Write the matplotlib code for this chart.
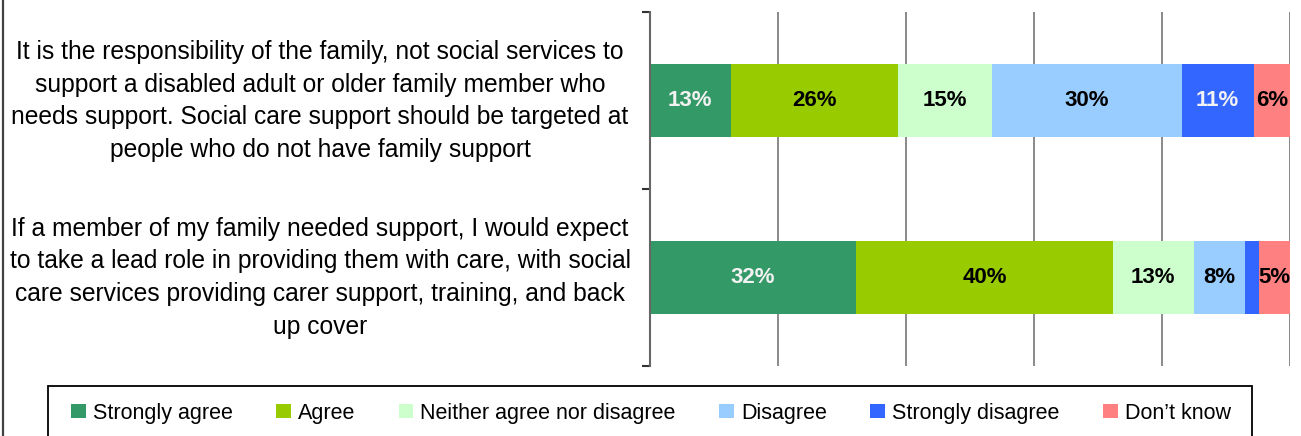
import matplotlib
matplotlib.use("Agg")
import matplotlib.pyplot as plt
from matplotlib.patches import Rectangle, Patch
from matplotlib.lines import Line2D
from matplotlib.transforms import blended_transform_factory

# ---------------- data ----------------
categories = [
    "It is the responsibility of the family, not social services to\n"
    "support a disabled adult or older family member who\n"
    "needs support. Social care support should be targeted at\n"
    "people who do not have family support",
    "If a member of my family needed support, I would expect\n"
    "to take a lead role in providing them with care, with social\n"
    "care services providing carer support, training, and back\n"
    "up cover",
]
series = ["Strongly agree", "Agree", "Neither agree nor disagree",
          "Disagree", "Strongly disagree", "Don\u2019t know"]
statement_1 = [12.6, 26.2, 14.7, 29.6, 11.2, 5.7]
statement_2 = [32.2, 40.1, 12.7, 8.0, 2.2, 4.8]
x_ticks = [0, 20, 40, 60, 80, 100]

# ---------------- style ----------------
colors = ["#339966", "#99CC00", "#CCFFCC", "#99CCFF", "#3366FF", "#FF8080"]
label_colors = ["#F2F2F2", "black", "black", "black", "#F2F2F2", "black"]
FONT = "Liberation Sans"
plt.rcParams["font.family"] = [FONT, "DejaVu Sans"]

W, H = 1301, 436
fig = plt.figure(figsize=(W / 100, H / 100), dpi=100)
ax = fig.add_axes([650 / W, 1 - 366 / H, (1290 - 650) / W, (366 - 12.5) / H])

rows = [statement_1, statement_2]
ypos = [1.5, 0.5]
bar_h = 0.413

for r, (vals, y) in enumerate(zip(rows, ypos)):
    left = 0
    for i, v in enumerate(vals):
        ax.barh(y, v, left=left, height=bar_h, color=colors[i], edgecolor="none", zorder=2)
        if v >= 3:
            ax.text(left + v / 2, y, f"{v:.0f}%", ha="center", va="center",
                    fontsize=16, fontweight="bold", color=label_colors[i], zorder=3)
        left += v

ax.set_xlim(0, 100)
ax.set_ylim(0, 2)
ax.set_xticks(x_ticks)
ax.tick_params(axis="x", length=0, labelbottom=False)
ax.xaxis.grid(True, color="#808080", linewidth=1.3, zorder=0)
ax.set_axisbelow(True)
ax.set_yticks([0, 1, 2])
ax.tick_params(axis="y", direction="out", length=5.5, width=1.5, color="#333333", labelleft=False)
for s in ["top", "right", "bottom"]:
    ax.spines[s].set_visible(False)
ax.spines["left"].set_color("#666666")
ax.spines["left"].set_linewidth(1.5)

trans = blended_transform_factory(fig.transFigure, ax.transData)
for lab, y in zip(categories, ypos):
    ax.text(320 / W, y, lab, transform=trans, ha="center", va="center",
            fontsize=17.7, linespacing=1.46, color="black")

# legend
handles = [Patch(facecolor=c, edgecolor="none") for c in colors]
fig.legend(handles, series, ncol=6, loc="center left",
           bbox_to_anchor=(71 / W, 1 - 413 / H), frameon=False, fontsize=15.5,
           handlelength=0.68, handleheight=0.68, handletextpad=0.33,
           columnspacing=2.02, borderpad=0, borderaxespad=0)
fig.patches.append(Rectangle((48 / W, -0.1), (1252 - 48) / W, (1 - 386 / H) + 0.1,
                             transform=fig.transFigure, fill=False,
                             edgecolor="black", linewidth=1.3))
fig.lines.append(Line2D([3 / W, 3 / W], [0, 1], transform=fig.transFigure,
                        color="#404040", linewidth=1.6))

fig.savefig("out.png", dpi=100)
